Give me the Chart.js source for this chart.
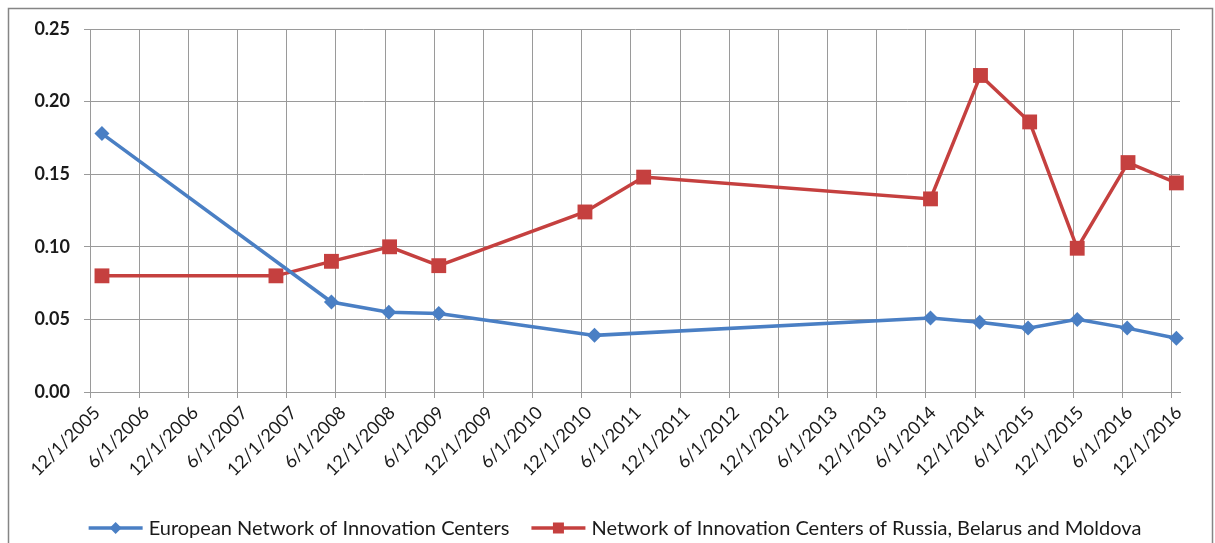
<!DOCTYPE html>
<html>
<head>
<meta charset="utf-8">
<title>Innovation centers</title>
<script src="https://cdn.jsdelivr.net/npm/chart.js@4"></script>
<style>
  html, body { margin: 0; padding: 0; background: #fff; }
  #wrap { width: 1215px; height: 543px; }
</style>
</head>
<body>
<div id="wrap"><canvas id="myChart" width="1215" height="543"></canvas></div>
<script>
'use strict';

// series names
var seriesNames = [
  'European Network of Innovation Centers',
  'Network of Innovation Centers of Russia, Belarus and Moldova'
];

var euDates  = ['1/15/2006', '5/15/2008', '12/15/2008', '6/18/2009', '1/18/2011',
                '6/18/2014', '12/18/2014', '6/15/2015', '12/15/2015', '6/18/2016', '12/18/2016'];
var euValues = [0.178, 0.062, 0.055, 0.054, 0.039,
                0.051, 0.048, 0.044, 0.050, 0.044, 0.037];

var rbmDates  = ['1/15/2006', '10/22/2007', '5/15/2008', '12/18/2008', '6/18/2009', '12/13/2010',
                 '7/18/2011', '6/18/2014', '12/21/2014', '6/21/2015', '12/15/2015', '6/21/2016', '12/18/2016'];
var rbmValues = [0.080, 0.080, 0.090, 0.100, 0.087, 0.124,
                 0.148, 0.133, 0.218, 0.186, 0.099, 0.158, 0.144];

// x axis: one tick every six months starting 12/1/2005
var xTickLabels = ['12/1/2005', '6/1/2006', '12/1/2006', '6/1/2007', '12/1/2007', '6/1/2008',
                   '12/1/2008', '6/1/2009', '12/1/2009', '6/1/2010', '12/1/2010', '6/1/2011',
                   '12/1/2011', '6/1/2012', '12/1/2012', '6/1/2013', '12/1/2013', '6/1/2014',
                   '12/1/2014', '6/1/2015', '12/1/2015', '6/1/2016', '12/1/2016'];
var yTicks = [0, 0.05, 0.10, 0.15, 0.20, 0.25];

var BLUE = '#4a7fc4';
var RED = '#c5403f';
var GRID = '#9a9a9a';
var TEXT = '#1a1a1a';

// months since 12/1/2005
function monthsFromStart(s) {
  var p = s.split('/').map(Number);
  return (p[2] - 2005) * 12 + (p[0] - 12) + (p[1] - 1) / 30.5;
}

function toPoints(dates, values) {
  return dates.map(function (d, i) { return { x: monthsFromStart(d), y: values[i] }; });
}

var framePlugin = {
  id: 'frame',
  beforeDraw: function (chart) {
    var ctx = chart.ctx;
    ctx.save();
    ctx.fillStyle = '#fff';
    ctx.fillRect(0, 0, chart.width, chart.height);
    ctx.strokeStyle = '#858585';
    ctx.lineWidth = 1.5;
    ctx.strokeRect(8.5, 8.5, 1204, 600);
    ctx.restore();
  }
};

function drawMarker(ctx, style, x, y, r, color) {
  ctx.fillStyle = color;
  ctx.beginPath();
  if (style === 'rectRot') {
    ctx.moveTo(x, y - r);
    ctx.lineTo(x + r, y);
    ctx.lineTo(x, y + r);
    ctx.lineTo(x - r, y);
    ctx.closePath();
  } else {
    ctx.rect(x - r, y - r, 2 * r, 2 * r);
  }
  ctx.fill();
}

var legendPlugin = {
  id: 'bottomLegend',
  afterDraw: function (chart) {
    var ctx = chart.ctx;
    var lineLen = 54, textGap = 6, itemGap = 22, y = 528;
    ctx.save();
    ctx.font = '20px Lato';
    ctx.textBaseline = 'middle';
    var sets = chart.data.datasets;
    var widths = sets.map(function (ds) { return ctx.measureText(ds.label).width; });
    var total = 0;
    widths.forEach(function (w) { total += lineLen + textGap + w; });
    total += itemGap * (sets.length - 1);
    var x = 615 - total / 2;
    sets.forEach(function (ds, i) {
      ctx.strokeStyle = ds.borderColor;
      ctx.lineWidth = 3.5;
      ctx.beginPath();
      ctx.moveTo(x, y);
      ctx.lineTo(x + lineLen, y);
      ctx.stroke();
      drawMarker(ctx, ds.pointStyle, x + lineLen / 2, y, ds.pointStyle === 'rectRot' ? 6 : 5.5, ds.backgroundColor);
      ctx.fillStyle = TEXT;
      ctx.fillText(ds.label, x + lineLen + textGap, y + 1);
      x += lineLen + textGap + widths[i] + itemGap;
    });
    ctx.restore();
  }
};

var ctx = document.getElementById('myChart').getContext('2d');

var chart = new Chart(ctx, {
  type: 'line',
  data: {
    datasets: [{
      label: seriesNames[0],
      data: toPoints(euDates, euValues),
      borderColor: BLUE,
      backgroundColor: BLUE,
      borderWidth: 3.5,
      pointStyle: 'rectRot',
      pointRadius: 7.5,
      pointBorderWidth: 0,
      tension: 0,
      clip: false
    }, {
      label: seriesNames[1],
      data: toPoints(rbmDates, rbmValues),
      borderColor: RED,
      backgroundColor: RED,
      borderWidth: 3.5,
      pointStyle: 'rect',
      pointRadius: 10.5,
      pointBorderWidth: 0,
      tension: 0,
      clip: false
    }]
  },
  options: {
    responsive: false,
    animation: false,
    devicePixelRatio: 1,
    layout: { padding: { top: 29, right: 35, left: 0, bottom: 0 } },
    plugins: {
      legend: { display: false },
      tooltip: { enabled: false }
    },
    scales: {
      x: {
        type: 'linear',
        min: 0,
        max: 133,
        afterBuildTicks: function (axis) {
          axis.ticks = xTickLabels.map(function (l, i) { return { value: i * 6 }; });
        },
        afterFit: function (axis) { axis.height = 151; },
        ticks: {
          autoSkip: false,
          minRotation: 45,
          maxRotation: 45,
          padding: 4,
          labelOffset: 7,
          color: TEXT,
          font: { family: 'Lato', size: 18 },
          callback: function (v) { return xTickLabels[Math.round(v / 6)]; }
        },
        grid: { color: GRID, lineWidth: 1, tickLength: 6 },
        border: { color: GRID }
      },
      y: {
        min: 0,
        max: 0.25,
        afterBuildTicks: function (axis) {
          axis.ticks = yTicks.map(function (v) { return { value: v }; });
        },
        afterFit: function (axis) { axis.width = 90; },
        ticks: {
          padding: 14,
          color: TEXT,
          font: { family: 'Lato', size: 18, weight: 'bold' },
          callback: function (v) { return v.toFixed(2); }
        },
        grid: { color: GRID, lineWidth: 1, tickLength: 6 },
        border: { color: GRID }
      }
    }
  },
  plugins: [framePlugin, legendPlugin]
});
</script>
</body>
</html>
